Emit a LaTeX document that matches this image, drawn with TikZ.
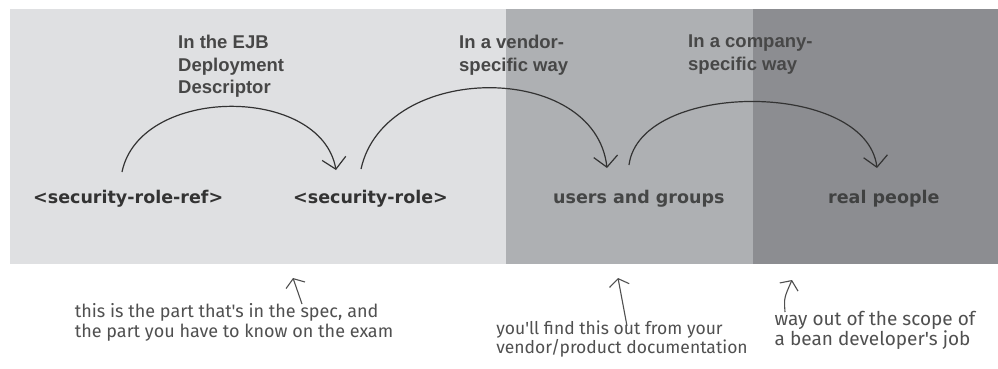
\documentclass[tikz,border=0pt]{standalone}
\usepackage{fontspec}
\setmainfont{Liberation Sans}
\newfontfamily\nodefont{DejaVu Sans}
\newfontfamily\handfont{Fira Sans}
\usetikzlibrary{arrows.meta}
\definecolor{bgA}{HTML}{DFE0E2}
\definecolor{bgB}{HTML}{AEB0B3}
\definecolor{bgC}{HTML}{8C8D91}
\definecolor{lbl}{HTML}{474747}
\definecolor{ink}{HTML}{333333}
\definecolor{hand}{HTML}{505050}
\tikzset{
  role/.style={font=\nodefont\bfseries\fontsize{17.5}{20}\selectfont, text=ink, inner sep=0pt, anchor=base west},
  lab/.style={font=\bfseries\fontsize{18.5}{22.5}\selectfont, text=lbl, inner sep=0pt, anchor=north west, align=left},
  note/.style={font=\handfont\fontsize{17.5}{19}\selectfont, text=hand, inner sep=0pt, align=left},
  arc/.style={draw=ink, line width=1.2pt, -{Straight Barb[length=11pt,width=24pt,line width=1.2pt]}},
  pointer/.style={draw=hand, line width=1.1pt, -{Straight Barb[length=7pt,width=20pt,line width=1.1pt]}}
}
\begin{document}
\begin{tikzpicture}[x=1pt,y=-1pt]
\useasboundingbox (0,0) rectangle (998,368);
\fill[white] (0,0) rectangle (998,368);
\fill[bgA] (10,9) rectangle (506,264);
\fill[bgB] (506,9) rectangle (753,264);
\fill[bgC] (753,9) rectangle (998,264);

% role nodes
\node[role] (ref) at (33,203) {<security-role-ref>};
\node[role] (role) at (293,203) {<security-role>};
\node[role, text=ink!85!bgB] (users) at (553,203) {users and groups};
\node[role, text=ink!85!bgC] (people) at (828,203) {real people};

% labels
\node[lab] (l1) at (178,35) {In the EJB\\Deployment\\Descriptor};
\node[lab] (l2) at (459,35) {In a vendor-\\specific way};
\node[lab] (l3) at (688,35) {In a company-\\specific way};

% arcs
\coordinate (a1s) at (122,172);
\coordinate (a1e) at (336,170);
\coordinate (a2s) at (361,169);
\coordinate (a2e) at (607,168);
\coordinate (a3s) at (629,165);
\coordinate (a3e) at (877,168);
\draw[arc] (a1s) .. controls (140,85) and (321,85) .. (a1e);
\draw[arc] (a2s) .. controls (385,61) and (595,61) .. (a2e);
\draw[arc] (a3s) .. controls (640,80) and (866,80) .. (a3e);

% annotations
\node[note, font=\handfont\fontsize{18}{20}\selectfont] (n1) at (234,322) {this is the part that's in the spec, and\\the part you have to know on the exam};
\node[note] (n2) at (622,339) {you'll find this out from your\\vendor/product documentation};
\node[note, font=\handfont\fontsize{19}{20}\selectfont] (n3) at (875,330) {way out of the scope of\\a bean developer's job};

\coordinate (p1s) at (302,304);
\coordinate (p1e) at (293,278);
\coordinate (p2s) at (627,326);
\coordinate (p2e) at (618,278);
\coordinate (p3s) at (785,312);
\coordinate (p3e) at (792,280);
\draw[pointer] (p1s) -- (p1e);
\draw[pointer] (p2s) -- (p2e);
\draw[pointer] (p3s) .. controls (784,298) .. (p3e);
\end{tikzpicture}
\end{document}
